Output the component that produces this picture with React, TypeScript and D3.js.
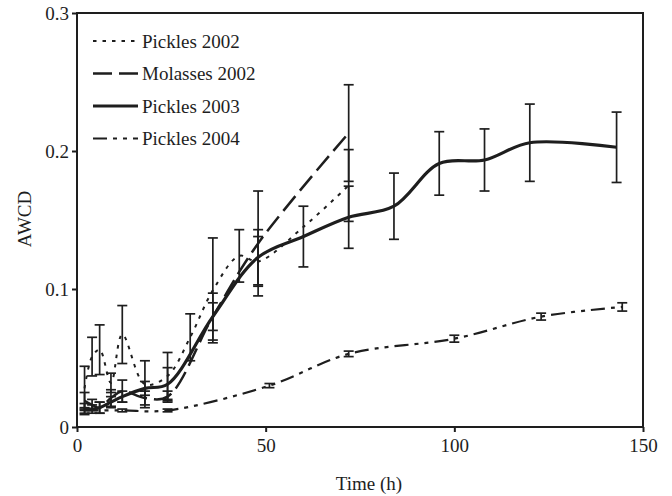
import { useEffect, useRef } from "react"
import * as d3 from "d3"

// Pickles 2002 (dotted)
const p02Time = [2, 4, 6, 9, 12, 18, 24, 30, 36, 43, 48, 60, 72]
const p02Awcd = [0.028, 0.051, 0.056, 0.032, 0.067, 0.031, 0.037, 0.065, 0.099, 0.124, 0.12, 0.145, 0.175]
const p02Err = [0.016, 0.014, 0.018, 0.007, 0.021, 0.017, 0.017, 0.017, 0.038, 0.019, 0.018, 0, 0.026]

// Molasses 2002 (long dashes)
const molTime = [2, 4, 6, 9, 12, 18, 24, 36, 48, 72]
const molAwcd = [0.019, 0.016, 0.014, 0.021, 0.026, 0.021, 0.022, 0.08, 0.133, 0.213]
const molErr = [0.006, 0.004, 0.004, 0.006, 0.008, 0.005, 0.004, 0.017, 0.038, 0.035]

// Pickles 2003 (solid)
const p03Time = [2, 4, 6, 9, 12, 18, 24, 36, 48, 60, 72, 84, 96, 108, 120, 143]
const p03Awcd = [0.013, 0.013, 0.014, 0.018, 0.022, 0.028, 0.031, 0.08, 0.123, 0.138, 0.152, 0.16, 0.191, 0.1935, 0.206, 0.2027]
const p03Err = [0.004, 0.003, 0.004, 0.004, 0.004, 0.005, 0.012, 0.01, 0.02, 0.022, 0.0225, 0.024, 0.023, 0.0225, 0.028, 0.0255]

// Pickles 2004 (dash-dot-dot)
const p04Time = [2, 12, 24, 51, 72, 100, 123, 144.5]
const p04Awcd = [0.012, 0.012, 0.012, 0.03, 0.053, 0.064, 0.08, 0.087]
const p04Err = [0.002, 0.001, 0.001, 0.0015, 0.002, 0.0025, 0.0025, 0.003]

const seriesNames = ["Pickles 2002", "Molasses 2002", "Pickles 2003", "Pickles 2004"]
const xTicks = [0, 50, 100, 150]
const yTicks = [0, 0.1, 0.2, 0.3]

const W = 672
const H = 496
const margin = { top: 13, right: 29, bottom: 69, left: 77 }
const font = "'Liberation Serif', 'Times New Roman', serif"
const ink = "#1e1e1e"

// line look per series, in legend order
const looks = [
    { dash: "3.5,6", width: 2 },
    { dash: "19,7", width: 2.5 },
    { dash: null, width: 3.2 },
    { dash: "14,6,4,6,4,6", width: 2.2 },
]

export default function App() {
    const ref = useRef<SVGSVGElement>(null)

    useEffect(() => {
        const width = W - margin.left - margin.right
        const height = H - margin.top - margin.bottom

        const svg = d3.select(ref.current)
        svg.selectAll("*").remove()

        const g = svg.append("g")
            .attr("transform", `translate(${margin.left}, ${margin.top})`)

        const xScale = d3.scaleLinear().domain([0, 150]).range([0, width])
        const yScale = d3.scaleLinear().domain([0, 0.3]).range([height, 0])

        const series = [
            { time: p02Time, awcd: p02Awcd, err: p02Err },
            { time: molTime, awcd: molAwcd, err: molErr },
            { time: p03Time, awcd: p03Awcd, err: p03Err },
            { time: p04Time, awcd: p04Awcd, err: p04Err },
        ].map((s, i) => ({
            name: seriesNames[i],
            look: looks[i],
            points: s.time.map((t, j) => ({ t, v: s.awcd[j], e: s.err[j] })),
        }))

        // frame
        g.append("rect")
            .attr("x", 0)
            .attr("y", 0)
            .attr("width", width)
            .attr("height", height)
            .attr("fill", "none")
            .attr("stroke", ink)
            .attr("stroke-width", 2)

        // axes
        const xAxis = d3.axisBottom(xScale)
            .tickValues(xTicks)
            .tickSize(5)
            .tickFormat(d3.format("d"))

        g.append("g")
            .attr("class", "x-axis")
            .attr("transform", `translate(0, ${height})`)
            .call(xAxis)
            .call((a) => a.select(".domain").remove())
            .call((a) => a.selectAll("line").attr("stroke", ink).attr("stroke-width", 2))
            .selectAll("text")
            .attr("y", 12)
            .attr("dy", "0.71em")
            .style("font-family", font)
            .style("font-size", "19px")
            .attr("fill", ink)

        const yAxis = d3.axisLeft(yScale)
            .tickValues(yTicks)
            .tickSize(5)
            .tickFormat((d) => (d === 0 ? "0" : d3.format(".1f")(d as number)))

        g.append("g")
            .attr("class", "y-axis")
            .call(yAxis)
            .call((a) => a.select(".domain").remove())
            .call((a) => a.selectAll("line").attr("stroke", ink).attr("stroke-width", 2))
            .selectAll("text")
            .attr("x", -8)
            .style("font-family", font)
            .style("font-size", "19px")
            .attr("fill", ink)

        // axis titles
        svg.append("text")
            .attr("x", 369)
            .attr("y", 490)
            .attr("text-anchor", "middle")
            .style("font-family", font)
            .style("font-size", "19px")
            .attr("fill", ink)
            .text("Time (h)")

        svg.append("text")
            .attr("transform", "translate(31, 219) rotate(-90)")
            .attr("text-anchor", "middle")
            .style("font-family", font)
            .style("font-size", "19px")
            .attr("fill", ink)
            .text("AWCD")

        // error bars
        const bars = g.append("g").attr("class", "errorbars")
        series.forEach((s) => {
            const pts = s.points.filter((p) => p.e > 0)
            const eb = bars.append("g")
                .attr("stroke", ink)
                .attr("stroke-width", 1.7)
                .attr("fill", "none")
            eb.selectAll(".stem")
                .data(pts)
                .join("line")
                .attr("class", "stem")
                .attr("x1", (d) => xScale(d.t))
                .attr("x2", (d) => xScale(d.t))
                .attr("y1", (d) => yScale(d.v - d.e))
                .attr("y2", (d) => yScale(d.v + d.e))
            eb.selectAll(".capTop")
                .data(pts)
                .join("line")
                .attr("class", "capTop")
                .attr("x1", (d) => xScale(d.t) - 5)
                .attr("x2", (d) => xScale(d.t) + 5)
                .attr("y1", (d) => yScale(d.v + d.e))
                .attr("y2", (d) => yScale(d.v + d.e))
            eb.selectAll(".capBot")
                .data(pts)
                .join("line")
                .attr("class", "capBot")
                .attr("x1", (d) => xScale(d.t) - 5)
                .attr("x2", (d) => xScale(d.t) + 5)
                .attr("y1", (d) => yScale(d.v - d.e))
                .attr("y2", (d) => yScale(d.v - d.e))
        })

        // lines
        const linePath = d3.line<{ t: number, v: number }>()
            .x((d) => xScale(d.t))
            .y((d) => yScale(d.v))
            .curve(d3.curveCatmullRom.alpha(0.5))

        g.append("g")
            .attr("class", "lines")
            .selectAll("path")
            .data(series)
            .join("path")
            .attr("fill", "none")
            .attr("stroke", ink)
            .attr("stroke-width", (d) => d.look.width)
            .attr("stroke-dasharray", (d) => d.look.dash)
            .attr("d", (d) => linePath(d.points))

        // legend
        const legend = svg.append("g")
            .attr("class", "legend")
            .attr("transform", "translate(93, 41)")

        const rows = legend.selectAll("g")
            .data(series)
            .join("g")
            .attr("transform", (d, i) => `translate(0, ${i * 32.5})`)

        rows.append("line")
            .attr("x1", 0)
            .attr("x2", 45)
            .attr("y1", 0)
            .attr("y2", 0)
            .attr("stroke", ink)
            .attr("stroke-width", (d) => d.look.width)
            .attr("stroke-dasharray", (d) => d.look.dash)

        rows.append("text")
            .attr("x", 49)
            .attr("y", 0)
            .attr("dy", "0.35em")
            .style("font-family", font)
            .style("font-size", "19px")
            .attr("fill", ink)
            .text((d) => d.name)
    }, [])

    return (
        <svg
            ref={ref}
            width={W}
            height={H}
            style={{ position: "absolute", left: 0, top: 0, background: "white" }}
        />
    )
}
